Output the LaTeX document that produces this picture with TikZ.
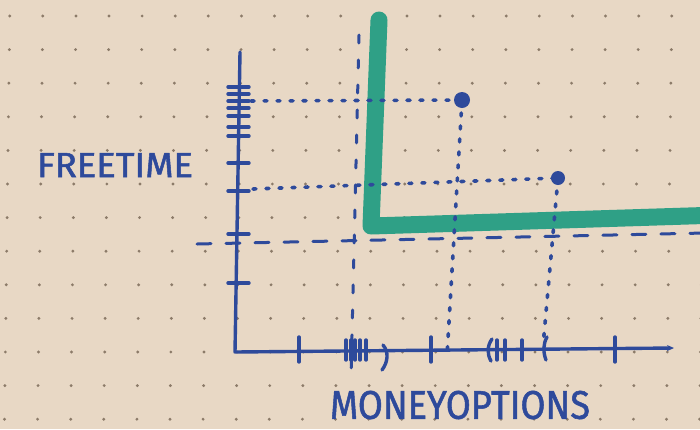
\documentclass[tikz,border=0pt]{standalone}
\usepackage{fontspec}
\newfontfamily\handfont{Fira Sans}[FakeBold=1.4]
\usepackage{graphicx}
\usetikzlibrary{
    arrows.meta
}

\definecolor{paper}{HTML}{E8D8C5}
\definecolor{inkblue}{HTML}{2E4A9B}
\definecolor{marker}{HTML}{2FA086}
\definecolor{dotgray}{HTML}{8C7B69}

\tikzset{
    pen/.style={draw=inkblue,line width=3.4pt,line cap=round,line join=round},
    dotguide/.style={pen,line width=3.6pt,dash pattern=on 3pt off 10pt},
    dashguide/.style={pen,line width=3pt,dash pattern=on 14pt off 15pt},
    handlabel/.style={text=inkblue,inner sep=0pt,font=\handfont}
}

\begin{document}
\begin{tikzpicture}[x=1pt,y=-1pt,thick]

\useasboundingbox (0,0) rectangle (700,429);
\clip (0,0) rectangle (700,429);
\fill[paper] (0,0) rectangle (700,429);

% Paper dots
\foreach \r in {0,...,12}{
    \foreach \c in {0,...,21}{
        \fill[dotgray] ({8+33.1*\c-0.013*(33.6*\r-134)},{16+33.6*\r}) circle (1.6pt);
    }
}

\coordinate (ytop) at (240,52);
\coordinate (origin) at (235,352);
\coordinate (xend) at (674,348);
\coordinate (p1) at (462,100);
\coordinate (p2) at (558,178);
\coordinate (y1) at (251,101);
\coordinate (y2) at (253,189);
\coordinate (x1) at (447,356);
\coordinate (x2) at (543,346);

% Green boundary
\draw[marker,line width=17pt,line cap=round,line join=round]
(379,20) --
(371,226) --
(720,215);

% Dashed limits
\draw[dashguide] (197,244) -- (705,233);
\draw[dashguide,dash pattern=on 8pt off 17pt] (359,35) -- (351,378);

% Axes
\draw[pen,-{Stealth[length=7pt,width=6pt]}] (ytop) -- (origin) -- (xend);

% Y ticks
\foreach \y in {87,94,101,108,116,127,136,163,191,234,283}{
    \draw[pen] (228,\y) -- (249,\y);
}

% X ticks
\foreach \x in {299,431,615}{
    \draw[pen] (\x,337) -- (\x,362);
}
\foreach \x in {346,351,355,360,366,497,505,522}{
    \draw[pen] (\x,340) -- (\x,360);
}
\draw[pen] (383,345) .. controls (389,352) and (388,362) .. (382,370);
\draw[pen] (492,339) .. controls (487,346) and (487,354) .. (491,361);
\draw[pen] (547,337) .. controls (543,344) and (543,352) .. (546,360);

% Guides to the points
\draw[dotguide] (y1) -- (p1);
\draw[dotguide] (p1) -- (x1);
\draw[dotguide] (y2) -- (p2);
\draw[dotguide] (p2) -- (x2);

% Points
\fill[inkblue] (p1) circle (8pt);
\fill[inkblue] (p2) circle (7pt);

% Labels
\node[handlabel] (freetime) at (115,165) {\resizebox{156pt}{24pt}{FREETIME}};
\node[handlabel] (moneyopt) at (460,405) {\resizebox{260pt}{28pt}{MONEYOPTIONS}};

\end{tikzpicture}
\end{document}
